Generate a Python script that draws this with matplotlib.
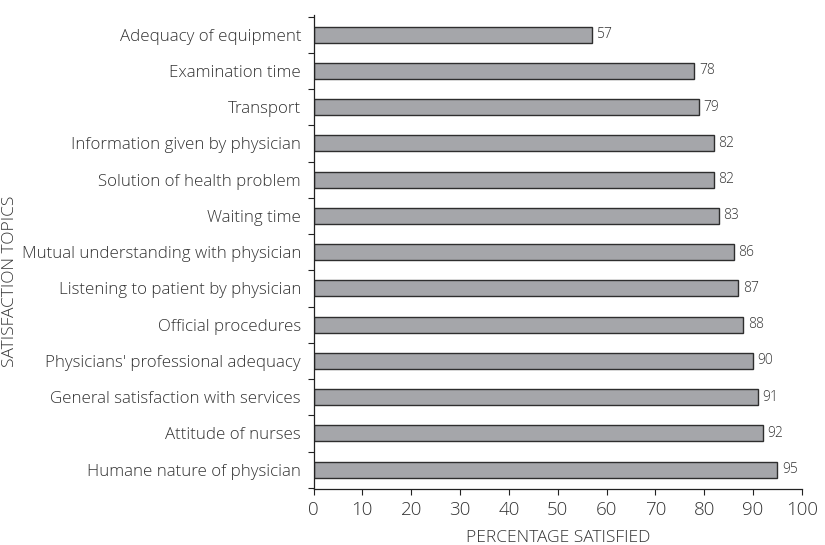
import matplotlib
matplotlib.use("Agg")
import matplotlib.pyplot as plt
import numpy as np

topics = [
    "Adequacy of equipment",
    "Examination time",
    "Transport",
    "Information given by physician",
    "Solution of health problem",
    "Waiting time",
    "Mutual understanding with physician",
    "Listening to patient by physician",
    "Official procedures",
    "Physicians' professional adequacy",
    "General satisfaction with services",
    "Attitude of nurses",
    "Humane nature of physician",
]
values = [57, 78, 79, 82, 82, 83, 86, 87, 88, 90, 91, 92, 95]
xticks = [0, 10, 20, 30, 40, 50, 60, 70, 80, 90, 100]

plt.rcParams['font.family'] = ['Open Sans', 'DejaVu Sans']
text_color = "#333333"

fig = plt.figure(figsize=(8.25, 5.45), dpi=100)
ax = fig.add_axes([0.380, 0.103, 0.592, 0.870])

y = np.arange(len(topics))
ax.barh(y, values, height=0.44, color="#a5a6aa", edgecolor="#2e2e2e", linewidth=1.0)
for yi, v in zip(y, values):
    ax.text(v + 0.9, yi, str(v), va="center", ha="left", fontsize=10, color=text_color,
            fontweight="light")

ax.set_xlim(0, 100)
ax.set_ylim(len(topics) - 0.47, -0.55)
ax.set_xticks(xticks)
ax.set_xticklabels([str(t) for t in xticks], fontsize=13.5, color=text_color, fontweight="light")
ax.set_yticks(y)
ax.set_yticklabels(topics, fontsize=12.2, color=text_color, fontweight="light")
ax.tick_params(axis="y", length=0, pad=9)
ax.set_yticks(np.arange(len(topics) + 1) - 0.5, minor=True)
ax.tick_params(axis="y", which="minor", length=4, width=0.8, direction="out", color="#222222")
ax.tick_params(axis="x", length=4, width=0.8, color="#222222", pad=5)

for s in ["top", "right"]:
    ax.spines[s].set_visible(False)
for s in ["left", "bottom"]:
    ax.spines[s].set_linewidth(0.9)
    ax.spines[s].set_color("#222222")

ax.set_xlabel("PERCENTAGE SATISFIED", fontsize=12.5, color=text_color, labelpad=8,
              fontweight="light")
fig.text(0.0125, 0.484, "SATISFACTION TOPICS", rotation=90, va="center", ha="center",
         fontsize=12.5, color=text_color, fontweight="light")

fig.savefig("out.png", dpi=100)
